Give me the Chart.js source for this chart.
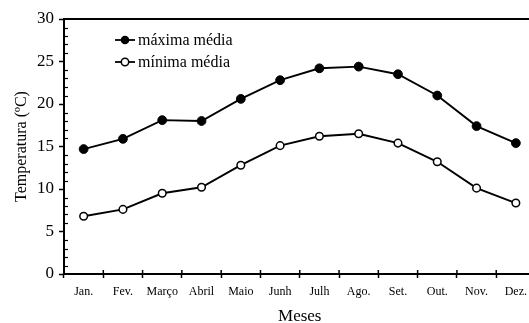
<!DOCTYPE html>
<html>
<head>
<meta charset="utf-8">
<script src="https://cdn.jsdelivr.net/npm/chart.js@4"></script>
<style>
  html, body { margin: 0; padding: 0; background: #fff; overflow: hidden; }
  #wrap { position: relative; width: 541px; height: 323px; }
  #legend { position: absolute; left: 114px; top: 29px; font: 16px "Liberation Serif", serif; color: #000; }
  #legend div { height: 22px; display: flex; align-items: center; }
  #legend svg { margin-right: 2px; }
</style>
</head>
<body>
<div id="wrap">
  <canvas id="tempChart"></canvas>
  <div id="legend">
    <div><svg width="22" height="12"><line x1="1" y1="6" x2="21" y2="6" stroke="#000" stroke-width="1.8"/><circle cx="11" cy="6" r="4.3" fill="#000"/></svg>máxima média</div>
    <div><svg width="22" height="12"><line x1="1" y1="6" x2="21" y2="6" stroke="#000" stroke-width="1.8"/><circle cx="11" cy="6" r="3.7" fill="#fff" stroke="#000" stroke-width="1.5"/></svg>mínima média</div>
  </div>
</div>
<script>
// =====> data <=====
const months = ["Jan.", "Fev.", "Março", "Abril", "Maio", "Junh", "Julh", "Ago.", "Set.", "Out.", "Nov.", "Dez."];
const maxTemp = [14.7, 15.9, 18.1, 18.0, 20.6, 22.8, 24.2, 24.4, 23.5, 21.0, 17.4, 15.4];
const minTemp = [6.8, 7.6, 9.5, 10.2, 12.8, 15.1, 16.2, 16.5, 15.4, 13.2, 10.1, 8.35];

const serif = "'Liberation Serif', 'Times New Roman', serif";

// minor ticks on y drawn inward, x ticks crossing the axis
const axisMarks = {
  id: "axisMarks",
  afterDraw(chart) {
    const ctx = chart.ctx;
    const y = chart.scales.y;
    const x = chart.scales.x;
    ctx.save();
    ctx.strokeStyle = "#000";
    ctx.lineWidth = 1.2;
    y.ticks.forEach((t, i) => {
      if (t.value % 5 !== 0) {
        const py = Math.round(y.getPixelForTick(i)) + 0.5;
        ctx.beginPath();
        ctx.moveTo(y.right, py);
        ctx.lineTo(y.right + 4, py);
        ctx.stroke();
      }
    });
    ctx.lineWidth = 1.5;
    for (let i = 0; i <= months.length; i++) {
      const px = x.getPixelForValue(i - 0.5);
      ctx.beginPath();
      ctx.moveTo(px, x.top - 4);
      ctx.lineTo(px, x.top);
      ctx.stroke();
    }
    ctx.restore();
  },
};

new Chart("tempChart", {
  type: "line",
  data: {
    labels: months,
    datasets: [
      {
        label: "máxima média",
        data: maxTemp,
        borderColor: "#000",
        borderWidth: 1.9,
        pointRadius: 4.4,
        pointBackgroundColor: "#000",
        pointBorderColor: "#000",
        pointBorderWidth: 1,
        tension: 0,
        clip: false,
      },
      {
        label: "mínima média",
        data: minTemp,
        borderColor: "#000",
        borderWidth: 1.9,
        pointRadius: 3.8,
        pointBackgroundColor: "#fff",
        pointBorderColor: "#000",
        pointBorderWidth: 1.5,
        tension: 0,
        clip: false,
      },
    ],
  },
  options: {
    responsive: true,
    maintainAspectRatio: false,
    animation: false,
    layout: { padding: { top: 19, right: 1, left: 0, bottom: 0 } },
    plugins: {
      legend: { display: false },
      tooltip: { enabled: false },
    },
    scales: {
      x: {
        offset: true,
        grid: { offset: true, drawOnChartArea: false, tickLength: 4, tickColor: "#000", tickWidth: 1.5 },
        border: { color: "#000", width: 2 },
        ticks: { color: "#000", font: { family: serif, size: 12 }, maxRotation: 0, autoSkip: false, padding: 7 },
        title: { display: true, text: "Meses", color: "#000", font: { family: serif, size: 17, lineHeight: 0.75 }, padding: { top: 0, bottom: 0 } },
        afterFit: (s) => { s.height = 49; },
      },
      x2: {
        position: "top",
        display: true,
        grid: { drawOnChartArea: false, drawTicks: false },
        border: { color: "#000", width: 2 },
        ticks: { display: false },
        afterFit: (s) => { s.height = 0; },
      },
      y: {
        min: 0,
        max: 30,
        grid: {
          drawOnChartArea: false,
          tickLength: 5,
          tickWidth: 1.5,
          tickColor: (c) => (c.tick && c.tick.value % 5 === 0 ? "#000" : "rgba(0,0,0,0)"),
        },
        border: { color: "#000", width: 2 },
        ticks: {
          stepSize: 1,
          autoSkip: false,
          color: "#000",
          padding: 5,
          font: { family: serif, size: 17 },
          callback: (v) => (v % 5 === 0 ? v : ""),
        },
        title: { display: true, text: "Temperatura (ºC)", color: "#000", font: { family: serif, size: 16 }, padding: { top: 12, bottom: 4 } },
        afterFit: (s) => { s.width = 64; },
      },
    },
  },
  plugins: [axisMarks],
});
</script>
</body>
</html>
